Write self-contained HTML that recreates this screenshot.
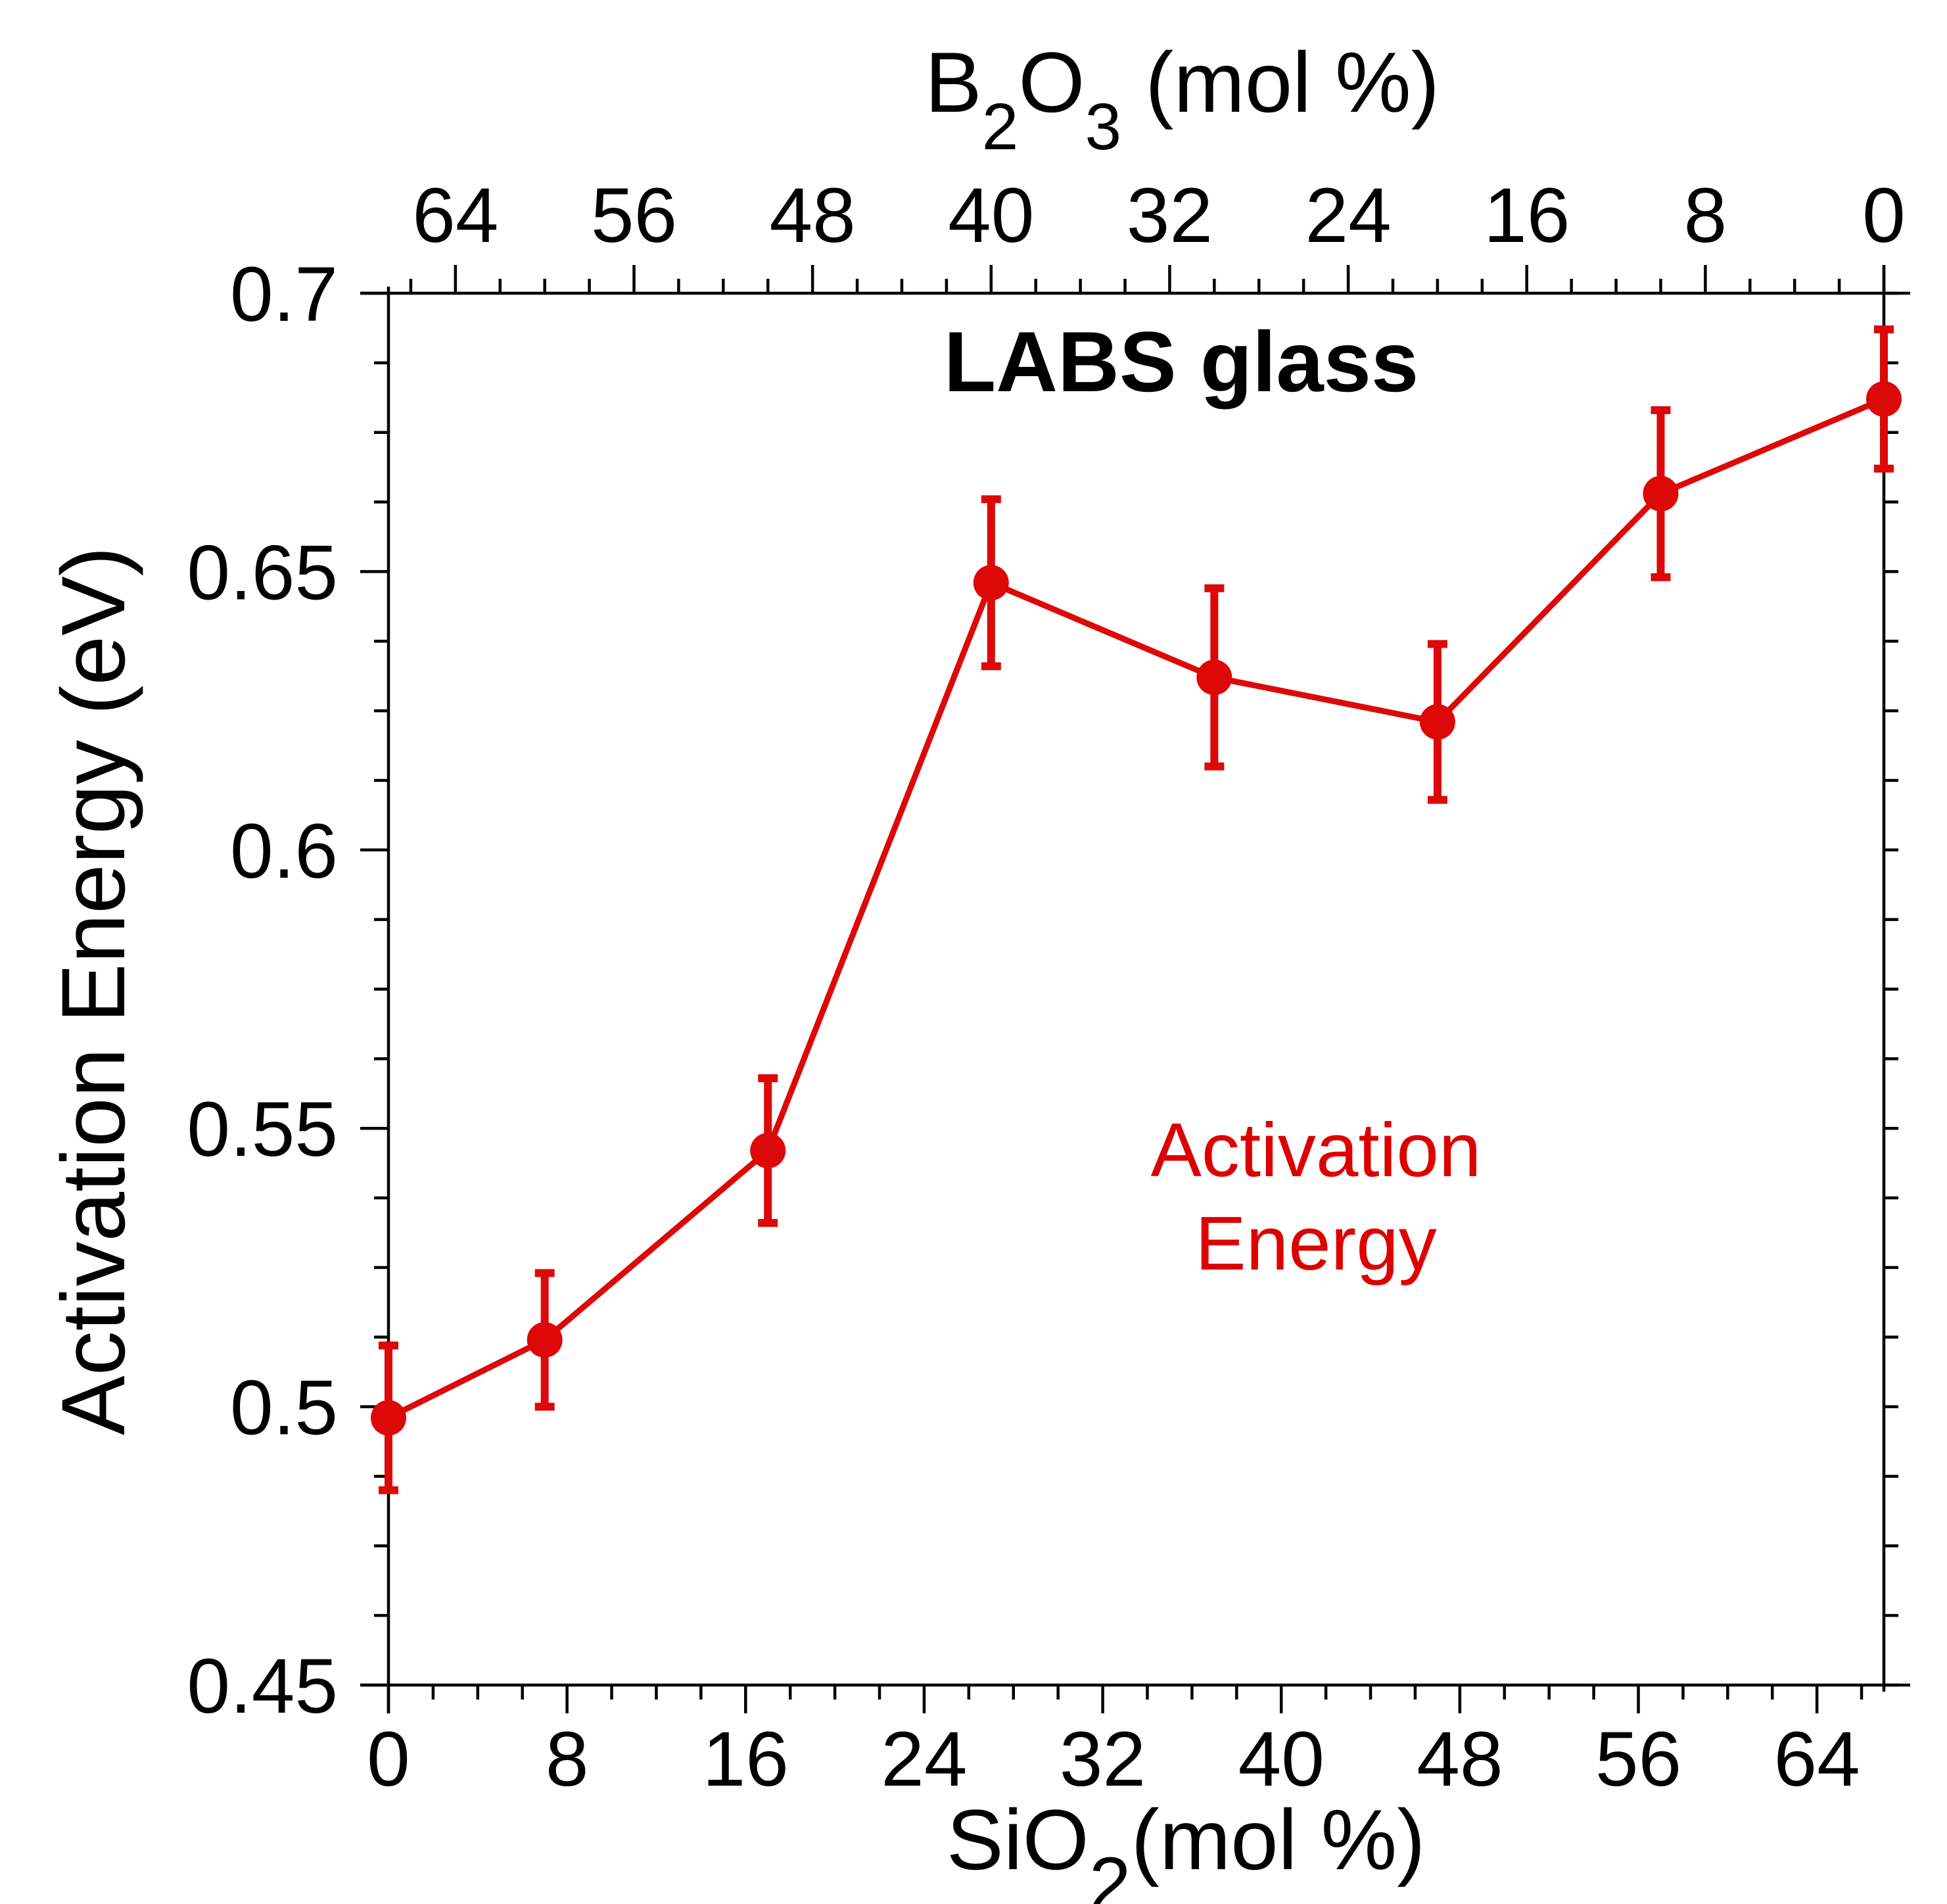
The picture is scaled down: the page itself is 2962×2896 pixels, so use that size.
<!DOCTYPE html>
<html><head><meta charset="utf-8"><style>html,body{margin:0;padding:0;background:#fff}svg{display:block}text{font-family:"Liberation Sans",Arial,sans-serif}</style></head>
<body>
<svg id="chart" width="2962" height="2896" viewBox="0 0 2962 2896" xmlns="http://www.w3.org/2000/svg">
<g id="axes"></g>
<g id="marks"></g>
<text x="1797" y="595" font-size="130" font-weight="bold" text-anchor="middle">LABS glass</text>
<text x="2002" y="1789" font-size="116" fill="#dd0000" text-anchor="middle">Activation</text>
<text x="2002" y="1931" font-size="116" fill="#dd0000" text-anchor="middle">Energy</text>
<text transform="translate(189,1507) rotate(-90)" font-size="137" text-anchor="middle" textLength="1352" lengthAdjust="spacingAndGlyphs">Activation Energy (eV)</text>
<text x="1440" y="2843" font-size="130">SiO<tspan font-size="115" dy="62">2</tspan><tspan dy="-62">(mol %)</tspan></text>
<text x="1407" y="170" font-size="130">B<tspan font-size="100" dy="57">2</tspan><tspan dy="-57">O</tspan><tspan font-size="100" dy="57">3</tspan><tspan dy="-57"> (mol %)</tspan></text>
</svg>
<script>
const sio2 = [0, 7, 17, 27, 37, 47, 57, 67];
const energy = [0.498, 0.512, 0.546, 0.648, 0.631, 0.623, 0.664, 0.681];
const errors = [0.013, 0.012, 0.013, 0.015, 0.016, 0.014, 0.015, 0.0125];
const xTicks = [0, 8, 16, 24, 32, 40, 48, 56, 64];
const topTicks = [64, 56, 48, 40, 32, 24, 16, 8, 0];
const yTicks = [0.45, 0.5, 0.55, 0.6, 0.65, 0.7];
const yTickLabels = ["0.45", "0.5", "0.55", "0.6", "0.65", "0.7"];

const NS = "http://www.w3.org/2000/svg";
const X0 = 591, X1 = 2866, Y0 = 2563, Y1 = 446;
const xMin = 0, xMax = 67, yMin = 0.45, yMax = 0.7;
function X(v){ return X0 + (v - xMin) / (xMax - xMin) * (X1 - X0); }
function Y(v){ return Y0 - (v - yMin) / (yMax - yMin) * (Y0 - Y1); }
function T(v){ return X(xMax - v); }
function mk(tag, attrs, parent){ const e = document.createElementNS(NS, tag); for (const k in attrs) e.setAttribute(k, attrs[k]); parent.appendChild(e); return e; }
const ax = document.getElementById('axes');
const mg = document.getElementById('marks');
const sw = 4.5;
let e;
e = mk('line', {x1: X0 - 43, y1: Y0, x2: X1 + 40, y2: Y0, stroke: '#000', 'stroke-width': sw}, ax);
 
e = mk('line', {x1: X0 - 43, y1: Y1, x2: X1 + 40, y2: Y1, stroke: '#000', 'stroke-width': sw}, ax);
 
e = mk('line', {x1: X0, y1: Y1 - 10, x2: X0, y2: Y0 + 43, stroke: '#000', 'stroke-width': sw}, ax);
 
e = mk('line', {x1: X1, y1: Y1 - 43, x2: X1, y2: Y0 + 10, stroke: '#000', 'stroke-width': sw}, ax);
 
// bottom minor/major ticks
for (let v = 0; v <= xMax; v += 2) {
  const major = v % 8 === 0;
  e = mk('line', {x1: X(v), y1: Y0, x2: X(v), y2: Y0 + (major ? 43 : 22), stroke: '#000', 'stroke-width': sw}, ax);
   
}
xTicks.forEach(v => {
  e = mk('text', {x: X(v), y: 2716, 'font-size': 118, 'text-anchor': 'middle'}, ax);
  e.textContent = String(v);
   
});
// top ticks
for (let v = 0; v <= xMax; v += 2) {
  const major = v % 8 === 0;
  e = mk('line', {x1: T(v), y1: Y1, x2: T(v), y2: Y1 - (major ? 43 : 22), stroke: '#000', 'stroke-width': sw}, ax);
   
}
topTicks.forEach(v => {
  e = mk('text', {x: T(v), y: 368, 'font-size': 118, 'text-anchor': 'middle'}, ax);
  e.textContent = String(v);
   
});
// y ticks
for (let i = 0; i <= 20; i++) {
  const v = yMin + i * 0.0125;
  const major = i % 4 === 0;
  e = mk('line', {x1: X0, y1: Y(v), x2: X0 - (major ? 43 : 22), y2: Y(v), stroke: '#000', 'stroke-width': sw}, ax);
   
  e = mk('line', {x1: X1, y1: Y(v), x2: X1 + 22, y2: Y(v), stroke: '#000', 'stroke-width': sw}, ax);
   
}
yTicks.forEach((v, i) => {
  e = mk('text', {x: 514, y: Y(v) + 42, 'font-size': 118, 'text-anchor': 'end'}, ax);
  e.textContent = yTickLabels[i];
   
});
// series
const red = '#dd0808';
e = mk('polyline', {points: sio2.map((v, i) => X(v) + ',' + Y(energy[i])).join(' '), fill: 'none', stroke: red, 'stroke-width': 9, 'stroke-linejoin': 'round'}, mg);
 
sio2.forEach((v, i) => {
  const x = X(v), yt = Y(energy[i] + errors[i]), yb = Y(energy[i] - errors[i]);
  e = mk('path', {d: `M${x},${yt} L${x},${yb} M${x - 15},${yt} L${x + 15},${yt} M${x - 15},${yb} L${x + 15},${yb}`, stroke: red, 'stroke-width': 12, fill: 'none'}, mg);
   
  e = mk('circle', {cx: x, cy: Y(energy[i]), r: 27, fill: red}, mg);
   
});
</script>
</body></html>
